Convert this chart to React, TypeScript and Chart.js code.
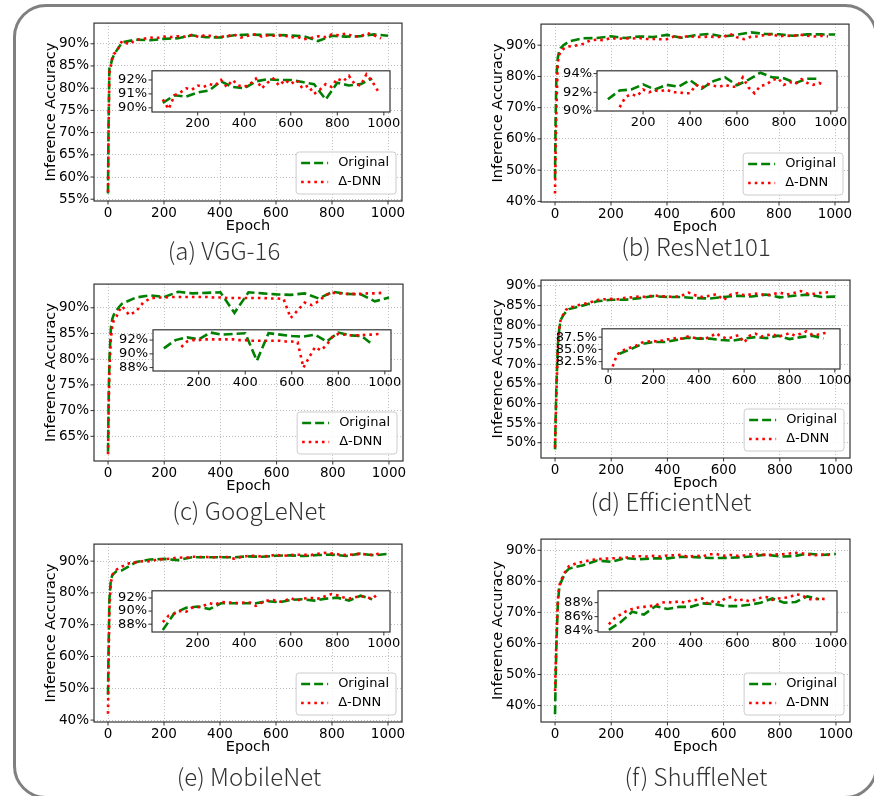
import React, { useEffect, useRef } from 'react';
import { Chart, registerables } from 'chart.js';

Chart.register(...registerables);
Chart.defaults.font.family = "'DejaVu Sans', sans-serif";
Chart.defaults.color = '#000';

// ---------------- data ----------------
const EPOCHS_EARLY = [0, 2, 5, 10, 15, 20, 30, 40];
const EPOCHS_ORIGINAL = [50, 100, 150, 200, 250, 300, 350, 400, 450, 500, 550, 600, 650, 700, 750, 800, 850, 900, 950, 1000];
const EPOCHS_DNN = [50, 75, 100, 125, 150, 175, 200, 225, 250, 275, 300, 325, 350, 375, 400, 425, 450, 475, 500, 525, 550, 575, 600, 625, 650, 675, 700, 725, 750, 775, 800, 825, 850, 875, 900, 925, 950, 975];
const X_TICKS = [0, 200, 400, 600, 800, 1000];
const SERIES_LABELS = ['Original', 'Δ-DNN'];
const X_LABEL = 'Epoch';
const Y_LABEL = 'Inference Accuracy';
const CAPTIONS = ['(a) VGG-16', '(b) ResNet101', '(c) GoogLeNet', '(d) EfficientNet', '(e) MobileNet', '(f) ShuffleNet'];

const vgg16Original = [56.3, 72.0, 84.8, 85.3, 86.6, 87.3, 88.4, 89.3, 90.35, 90.9, 90.8, 91.1, 91.25, 91.9, 91.5, 91.4, 91.9, 92.05, 92.0, 92.0, 91.85, 91.7, 90.6, 91.8, 91.6, 91.7, 92.1, 91.8];
const vgg16Dnn = [56.6, 70.0, 83.5, 85.0, 86.8, 87.7, 88.1, 89.4, 90.6, 89.9, 90.9, 91.1, 91.4, 91.3, 91.6, 91.5, 91.7, 91.6, 92.0, 91.5, 92.0, 91.6, 91.5, 91.7, 92.1, 91.4, 91.8, 92.1, 91.6, 92.0, 91.7, 92.0, 91.4, 91.6, 91.0, 91.3, 91.7, 91.5, 92.1, 91.9, 92.3, 91.7, 91.6, 92.4, 91.9, 91.2];

const resnetOriginal = [47.5, 65.0, 80.0, 86.0, 88.0, 89.0, 90.0, 90.6, 91.25, 92.2, 92.3, 92.85, 92.3, 92.8, 92.6, 93.3, 92.4, 93.2, 93.6, 92.75, 93.35, 94.1, 93.6, 93.5, 93.0, 93.45, 93.45, 93.4];
const resnetDnn = [42.5, 55.0, 70.0, 84.5, 86.8, 88.0, 88.8, 89.3, 89.6, 89.9, 90.4, 91.5, 91.8, 91.6, 92.3, 92.0, 92.2, 92.1, 92.3, 92.0, 92.0, 91.9, 91.9, 92.8, 92.5, 92.9, 92.7, 92.6, 92.8, 92.6, 92.6, 93.6, 92.5, 91.9, 92.7, 92.8, 93.3, 93.5, 92.8, 93.1, 92.9, 93.4, 93.0, 92.8, 93.0, 92.8];

const googlenetOriginal = [62.0, 72.0, 80.0, 86.0, 87.8, 88.6, 89.5, 90.2, 90.8, 92.0, 92.4, 92.1, 93.1, 92.8, 92.9, 93.0, 89.0, 93.0, 92.8, 92.6, 92.5, 92.8, 91.8, 93.1, 92.7, 92.6, 91.25, 92.0];
const googlenetDnn = [61.5, 70.0, 78.0, 84.0, 86.5, 87.5, 88.3, 89.5, 90.3, 88.6, 89.3, 91.0, 91.8, 92.0, 92.0, 92.1, 92.1, 92.1, 92.1, 92.1, 92.1, 92.0, 92.0, 91.9, 91.9, 91.9, 91.9, 91.9, 91.9, 91.8, 91.8, 91.7, 88.0, 89.5, 91.0, 90.5, 91.3, 92.5, 92.9, 92.8, 92.7, 92.7, 92.7, 92.8, 92.8, 92.9];

const efficientnetOriginal = [48.3, 56.0, 65.0, 75.0, 79.0, 81.3, 82.6, 83.5, 84.1, 85.05, 86.1, 86.5, 86.5, 86.9, 87.4, 87.2, 87.2, 86.9, 86.8, 87.2, 87.5, 87.3, 87.8, 87.1, 87.5, 87.8, 87.2, 87.3];
const efficientnetDnn = [48.8, 55.0, 63.0, 74.0, 79.0, 81.5, 82.8, 84.0, 84.3, 85.0, 85.4, 85.8, 86.4, 86.6, 86.7, 86.6, 87.0, 87.1, 87.3, 87.2, 87.6, 87.4, 87.3, 87.2, 87.5, 88.3, 87.6, 87.2, 87.5, 87.9, 86.4, 87.8, 88.2, 87.6, 87.9, 88.1, 87.6, 87.9, 88.3, 87.8, 88.2, 88.7, 88.0, 88.0, 88.3, 88.4];

const mobilenetOriginal = [48.0, 62.0, 78.0, 84.0, 85.5, 86.0, 86.8, 87.0, 87.1, 89.7, 90.5, 90.7, 90.3, 91.2, 91.2, 91.2, 91.2, 91.5, 91.35, 91.7, 91.8, 91.6, 91.9, 92.05, 91.6, 92.35, 91.8, 92.3];
const mobilenetDnn = [42.0, 58.0, 75.0, 83.0, 85.5, 86.5, 87.3, 87.8, 88.3, 89.3, 89.6, 90.0, 89.9, 90.5, 90.6, 90.8, 91.2, 91.0, 91.4, 91.3, 91.3, 91.2, 91.3, 91.3, 90.8, 91.3, 91.6, 91.7, 91.4, 91.6, 92.0, 91.6, 91.9, 92.0, 92.0, 91.9, 92.3, 92.6, 92.4, 92.1, 91.9, 92.1, 92.3, 92.1, 91.9, 92.6];

const shufflenetOriginal = [37.2, 48.0, 60.0, 73.0, 78.0, 79.5, 81.5, 83.2, 84.1, 85.2, 86.7, 86.3, 87.5, 87.1, 87.4, 87.4, 87.9, 87.8, 87.5, 87.5, 87.7, 88.0, 88.6, 88.0, 88.1, 88.9, 88.5, 88.8];
const shufflenetDnn = [44.7, 52.0, 62.0, 74.0, 78.5, 80.0, 82.0, 83.8, 84.9, 85.8, 86.3, 86.8, 87.1, 87.3, 87.4, 87.5, 87.6, 88.0, 88.1, 88.0, 88.2, 88.0, 88.3, 88.4, 88.6, 87.8, 88.3, 88.0, 88.7, 88.8, 88.2, 88.5, 88.2, 88.4, 88.7, 88.8, 88.4, 88.6, 88.7, 88.8, 89.2, 89.1, 88.6, 88.4, 88.6, 88.5];

const vgg16YTicks = [55, 60, 65, 70, 75, 80, 85, 90];
const resnetYTicks = [40, 50, 60, 70, 80, 90];
const googlenetYTicks = [65, 70, 75, 80, 85, 90];
const efficientnetYTicks = [50, 55, 60, 65, 70, 75, 80, 85, 90];
const mobilenetYTicks = [40, 50, 60, 70, 80, 90];
const shufflenetYTicks = [40, 50, 60, 70, 80, 90];

const vgg16InsetYTicks = [90, 91, 92];
const resnetInsetYTicks = [90, 92, 94];
const googlenetInsetYTicks = [88, 90, 92];
const efficientnetInsetYTicks = [82.5, 85.0, 87.5];
const mobilenetInsetYTicks = [88, 90, 92];
const shufflenetInsetYTicks = [84, 86, 88];

// ---------------- styling / layout ----------------
const GREEN = '#008000';
const RED = '#ff0000';
const FRAME = '#333333';
const GRID = '#bdbdbd';
const ORIG_EPOCHS = [...EPOCHS_EARLY, ...EPOCHS_ORIGINAL];
const DNN_EPOCHS = [...EPOCHS_EARLY, ...EPOCHS_DNN];

type Box = { l: number; t: number; r: number; b: number };
type PanelSpec = {
  caption: string; capX: number; capY: number;
  plot: Box; inset: Box;
  original: number[]; dnn: number[];
  yRange: [number, number]; yTicks: number[];
  insetY: [number, number]; insetYTicks: number[]; insetX: [number, number];
  insetStartOrig: number; insetStartDnn: number; insetDecimals: number;
};

const PANELS: PanelSpec[] = [
  { caption: CAPTIONS[0], capX: 224, capY: 252, plot: { l: 94, t: 20, r: 402, b: 201 }, inset: { l: 152, t: 64, r: 390, b: 112 },
    original: vgg16Original, dnn: vgg16Dnn, yRange: [54.6, 94.65], yTicks: vgg16YTicks,
    insetY: [89.7, 92.66], insetYTicks: vgg16InsetYTicks, insetX: [3.5, 1026.5], insetStartOrig: 50, insetStartDnn: 50, insetDecimals: 0 },
  { caption: CAPTIONS[1], capX: 696, capY: 248, plot: { l: 541, t: 21, r: 849, b: 202 }, inset: { l: 597, t: 64, r: 837, b: 111 },
    original: resnetOriginal, dnn: resnetDnn, yRange: [39.8, 96.75], yTicks: resnetYTicks,
    insetY: [90.0, 94.3], insetYTicks: resnetInsetYTicks, insetX: [3.5, 1026.5], insetStartOrig: 50, insetStartDnn: 100, insetDecimals: 0 },
  { caption: CAPTIONS[2], capX: 249, capY: 512, plot: { l: 94, t: 281, r: 403, b: 461 }, inset: { l: 153, t: 323, r: 391, b: 371 },
    original: googlenetOriginal, dnn: googlenetDnn, yRange: [60.2, 94.6], yTicks: googlenetYTicks,
    insetY: [87.5, 93.5], insetYTicks: googlenetInsetYTicks, insetX: [3.5, 1026.5], insetStartOrig: 50, insetStartDnn: 125, insetDecimals: 0 },
  { caption: CAPTIONS[3], capX: 671, capY: 503, plot: { l: 541, t: 277, r: 850, b: 458 }, inset: { l: 602, t: 322, r: 840, b: 369 },
    original: efficientnetOriginal, dnn: efficientnetDnn, yRange: [46.1, 91.5], yTicks: efficientnetYTicks,
    insetY: [81.0, 89.2], insetYTicks: efficientnetInsetYTicks, insetX: [-27, 1023], insetStartOrig: 50, insetStartDnn: 20, insetDecimals: 1 },
  { caption: CAPTIONS[4], capX: 249, capY: 778, plot: { l: 94, t: 541, r: 402, b: 722 }, inset: { l: 152, t: 584, r: 390, b: 632 },
    original: mobilenetOriginal, dnn: mobilenetDnn, yRange: [39.4, 95.35], yTicks: mobilenetYTicks,
    insetY: [86.8, 93.1], insetYTicks: mobilenetInsetYTicks, insetX: [3.5, 1026.5], insetStartOrig: 50, insetStartDnn: 50, insetDecimals: 0 },
  { caption: CAPTIONS[5], capX: 696, capY: 778, plot: { l: 541, t: 536, r: 850, b: 722 }, inset: { l: 598, t: 584, r: 837, b: 632 },
    original: shufflenetOriginal, dnn: shufflenetDnn, yRange: [34.7, 93.6], yTicks: shufflenetYTicks,
    insetY: [83.8, 89.7], insetYTicks: shufflenetInsetYTicks, insetX: [3.5, 1026.5], insetStartOrig: 50, insetStartDnn: 50, insetDecimals: 0 },
];

const M_LEFT = 70, M_TOP = 10, M_RIGHT = 14, M_BOTTOM = 40;
const I_LEFT = 60, I_TOP = 6, I_RIGHT = 16, I_BOTTOM = 20;

function roundRectPath(ctx: CanvasRenderingContext2D, x: number, y: number, w: number, h: number, r: number) {
  ctx.beginPath();
  ctx.moveTo(x + r, y);
  ctx.arcTo(x + w, y, x + w, y + h, r);
  ctx.arcTo(x + w, y + h, x, y + h, r);
  ctx.arcTo(x, y + h, x, y, r);
  ctx.arcTo(x, y, x + w, y, r);
  ctx.closePath();
}

const framePlugin = {
  id: 'mplFrame',
  beforeDraw(chart: any, _args: any, opts: any) {
    if (!opts || !opts.fill) return;
    const { ctx, chartArea: a } = chart;
    ctx.save();
    ctx.fillStyle = '#ffffff';
    ctx.fillRect(a.left, a.top, a.right - a.left, a.bottom - a.top);
    ctx.restore();
  },
  afterDraw(chart: any) {
    const { ctx, chartArea: a, scales } = chart;
    ctx.save();
    ctx.setLineDash([]);
    ctx.strokeStyle = FRAME;
    ctx.lineWidth = 1.2;
    ctx.strokeRect(a.left, a.top, a.right - a.left, a.bottom - a.top);
    ctx.lineWidth = 1;
    ctx.beginPath();
    for (const t of scales.x.ticks) {
      const px = scales.x.getPixelForValue(t.value);
      ctx.moveTo(px, a.bottom);
      ctx.lineTo(px, a.bottom + 3.5);
    }
    for (const t of scales.y.ticks) {
      const py = scales.y.getPixelForValue(t.value);
      ctx.moveTo(a.left - 3.5, py);
      ctx.lineTo(a.left, py);
    }
    ctx.stroke();
    ctx.restore();
  },
};

const legendPlugin = {
  id: 'mplLegend',
  afterDraw(chart: any) {
    const { ctx, chartArea: a } = chart;
    const ds = chart.data.datasets;
    ctx.save();
    ctx.font = "13px 'DejaVu Sans'";
    const tw = Math.max(...ds.map((d: any) => ctx.measureText(d.label).width));
    const w = 49 + tw, h = 42;
    const x0 = a.right - 6 - w, y0 = a.bottom - 7 - h;
    roundRectPath(ctx, x0, y0, w, h, 3);
    ctx.fillStyle = 'rgba(255,255,255,0.85)';
    ctx.fill();
    ctx.strokeStyle = '#cccccc';
    ctx.lineWidth = 1;
    ctx.stroke();
    ds.forEach((d: any, i: number) => {
      const y = y0 + 11 + i * 19;
      ctx.beginPath();
      ctx.setLineDash(d.borderDash);
      ctx.strokeStyle = d.borderColor;
      ctx.lineWidth = d.borderWidth;
      ctx.moveTo(x0 + 5, y);
      ctx.lineTo(x0 + 32, y);
      ctx.stroke();
      ctx.setLineDash([]);
      ctx.fillStyle = '#000';
      ctx.textBaseline = 'middle';
      ctx.textAlign = 'left';
      ctx.fillText(d.label, x0 + 42, y);
    });
    ctx.restore();
  },
};

function series(epochs: number[], values: number[], from: number, to: number) {
  const pts: { x: number; y: number }[] = [];
  epochs.forEach((e, i) => { if (e >= from && e <= to) pts.push({ x: e, y: values[i] }); });
  return pts;
}

function datasets(orig: any[], dnn: any[]) {
  return [
    { label: SERIES_LABELS[0], data: orig, borderColor: GREEN, borderWidth: 2.6, borderDash: [9, 4], pointRadius: 0, fill: false, tension: 0, order: 1 },
    { label: SERIES_LABELS[1], data: dnn, borderColor: RED, borderWidth: 2.6, borderDash: [2.6, 4], pointRadius: 0, fill: false, tension: 0, order: 0 },
  ];
}

const fixedTicks = (vals: number[]) => (scale: any) => {
  scale.ticks = vals.filter((v) => v >= scale.min - 1e-9 && v <= scale.max + 1e-9).map((v) => ({ value: v }));
};

function Panel({ p }: { p: PanelSpec }) {
  const mainRef = useRef<HTMLCanvasElement>(null);
  const insetRef = useRef<HTMLCanvasElement>(null);
  const mW = p.plot.r - p.plot.l + M_LEFT + M_RIGHT;
  const mH = p.plot.b - p.plot.t + M_TOP + M_BOTTOM;
  const iW = p.inset.r - p.inset.l + I_LEFT + I_RIGHT;
  const iH = p.inset.b - p.inset.t + I_TOP + I_BOTTOM;

  useEffect(() => {
    const main = new Chart(mainRef.current as HTMLCanvasElement, {
      type: 'line',
      data: { datasets: datasets(series(ORIG_EPOCHS, p.original, 0, 1000), series(DNN_EPOCHS, p.dnn, 0, 1000)) as any },
      options: {
        animation: false, responsive: false, maintainAspectRatio: false, devicePixelRatio: 1,
        events: [],
        layout: { padding: { left: 0, top: M_TOP, right: M_RIGHT, bottom: 0 } },
        plugins: { legend: { display: false }, tooltip: { enabled: false } },
        scales: {
          x: {
            type: 'linear', min: -50, max: 1050,
            afterBuildTicks: fixedTicks(X_TICKS),
            afterFit: (s: any) => { s.height = M_BOTTOM; },
            ticks: { autoSkip: false, maxRotation: 0, padding: 4, color: '#000', font: { size: 13.5 }, callback: (v: any) => String(v) },
            grid: { color: GRID, lineWidth: 1, drawTicks: false },
            border: { display: false, dash: [1, 2] },
            title: { display: true, text: X_LABEL, color: '#000', font: { size: 14.5 }, padding: { top: 0, bottom: 6 } },
          },
          y: {
            type: 'linear', min: p.yRange[0], max: p.yRange[1],
            afterBuildTicks: fixedTicks(p.yTicks),
            afterFit: (s: any) => { s.width = M_LEFT; },
            ticks: { autoSkip: false, padding: 5, color: '#000', font: { size: 13.5 }, callback: (v: any) => v + '%' },
            grid: { color: GRID, lineWidth: 1, drawTicks: false },
            border: { display: false, dash: [1, 2] },
            title: { display: true, text: Y_LABEL, color: '#000', font: { size: 14.5 }, padding: { top: 18.5, bottom: 0 } },
          },
        },
      } as any,
      plugins: [framePlugin, legendPlugin],
    });

    const inset = new Chart(insetRef.current as HTMLCanvasElement, {
      type: 'line',
      data: { datasets: datasets(series(ORIG_EPOCHS, p.original, p.insetStartOrig, 950), series(DNN_EPOCHS, p.dnn, p.insetStartDnn, 975)) as any },
      options: {
        animation: false, responsive: false, maintainAspectRatio: false, devicePixelRatio: 1,
        events: [],
        layout: { padding: { left: 0, top: I_TOP, right: I_RIGHT, bottom: 0 } },
        plugins: { legend: { display: false }, tooltip: { enabled: false }, mplFrame: { fill: true } },
        scales: {
          x: {
            type: 'linear', min: p.insetX[0], max: p.insetX[1],
            afterBuildTicks: fixedTicks(X_TICKS),
            afterFit: (s: any) => { s.height = I_BOTTOM; },
            ticks: { autoSkip: false, maxRotation: 0, padding: 4, color: '#000', font: { size: 13 }, callback: (v: any) => String(v) },
            grid: { display: false, drawTicks: false },
            border: { display: false },
          },
          y: {
            type: 'linear', min: p.insetY[0], max: p.insetY[1],
            afterBuildTicks: fixedTicks(p.insetYTicks),
            afterFit: (s: any) => { s.width = I_LEFT; },
            ticks: { autoSkip: false, padding: 5, color: '#000', font: { size: 13 }, callback: (v: any) => Number(v).toFixed(p.insetDecimals) + '%' },
            grid: { display: false, drawTicks: false },
            border: { display: false },
          },
        },
      } as any,
      plugins: [framePlugin],
    });
    return () => { main.destroy(); inset.destroy(); };
  }, [p]);

  return (
    <>
      <canvas ref={mainRef} width={mW} height={mH}
        style={{ position: 'absolute', left: p.plot.l - M_LEFT, top: p.plot.t - M_TOP, width: mW, height: mH }} />
      <canvas ref={insetRef} width={iW} height={iH}
        style={{ position: 'absolute', left: p.inset.l - I_LEFT, top: p.inset.t - I_TOP, width: iW, height: iH }} />
      <div style={{
        position: 'absolute', left: p.capX - 150, top: p.capY - 14, width: 300, textAlign: 'center',
        fontFamily: "'Noto Sans CJK SC Light', 'Noto Sans CJK SC', 'Noto Sans', sans-serif", fontWeight: 300, fontSize: 24, lineHeight: '24px',
        color: '#333', whiteSpace: 'nowrap',
      }}>{p.caption}</div>
    </>
  );
}

export default function App() {
  return (
    <div style={{ position: 'fixed', left: 0, top: 0, width: 874, height: 796, overflow: 'hidden', background: '#fff' }}>
      <div style={{
        position: 'absolute', left: 12.5, top: 3.5, width: 865, height: 795, boxSizing: 'border-box',
        border: '3px solid #808080', borderRadius: 33,
      }} />
      {PANELS.map((p, i) => <Panel key={i} p={p} />)}
    </div>
  );
}
